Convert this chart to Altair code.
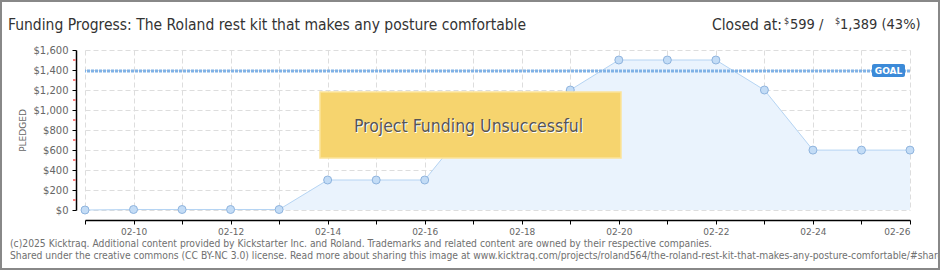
import altair as alt
import pandas as pd

# ---------------- data ----------------
dates = ["2025-02-09", "2025-02-10", "2025-02-11", "2025-02-12", "2025-02-13",
         "2025-02-14", "2025-02-15", "2025-02-16", "2025-02-17", "2025-02-18",
         "2025-02-19", "2025-02-20", "2025-02-21", "2025-02-22", "2025-02-23",
         "2025-02-24", "2025-02-25", "2025-02-26"]
pledged = [0, 5, 5, 5, 5, 300, 300, 300, 900, 900, 1200, 1500, 1500, 1500, 1200, 599, 599, 599]
goal = [1389]
y_major = [0, 200, 400, 600, 800, 1000, 1200, 1400, 1600]
y_minor = [100, 300, 500, 700, 900, 1100, 1300, 1500]
x_days = list(range(9, 27))

title_text = ["Funding Progress: The Roland rest kit that makes any posture comfortable"]
closed_parts = ["Closed at:", "$", "599 /", "$", "1,389 (43%)"]
banner_text = ["Project Funding Unsuccessful"]
goal_label = ["GOAL"]
footer_lines = [
    "(c)2025 Kicktraq. Additional content provided by Kickstarter Inc. and Roland. Trademarks and related content are owned by their respective companies.",
    "Shared under the creative commons (CC BY-NC 3.0) license. Read more about sharing this image at www.kicktraq.com/projects/roland564/the-roland-rest-kit-that-makes-any-posture-comfortable/#share",
]

df = pd.DataFrame({"date": dates, "pledged": pledged})
goal_df = pd.DataFrame({"goal": goal, "label": goal_label})
minor_df = pd.DataFrame({"v": y_minor})

FONT = "DejaVu Sans"
NARROW = "Liberation Sans Narrow, DejaVu Sans Condensed, DejaVu Sans"

x_scale = alt.Scale(type="utc", nice=False,
                    domain=[alt.DateTime(year=2025, month=2, date=9, utc=True),
                            alt.DateTime(year=2025, month=2, date=26, utc=True)])
y_scale = alt.Scale(domain=[0, 1600], nice=False)

x_axis = alt.Axis(
    values=[alt.DateTime(year=2025, month=2, date=d, utc=True) for d in x_days],
    labelExpr="utcdate(datum.value) % 2 == 0 ? utcFormat(datum.value, '%m-%d') : ''",
    title=None, offset=10, grid=True, gridColor="#dddddd", gridDash=[5, 3],
    domainColor="#000000", domainWidth=1.5, tickColor="#000000", tickSize=4,
    labelFont=FONT, labelFontSize=9, labelColor="#666666", labelPadding=3,
)
y_axis = alt.Axis(
    values=y_major, format="$,d", title="PLEDGED", offset=9, grid=True,
    gridColor="#dddddd", gridDash=[5, 3], domainColor="#000000", domainWidth=1.5,
    tickColor="#000000", tickSize=4, labelFont=FONT, labelFontSize=10,
    labelColor="#666666", labelPadding=4, titleFont=FONT, titleFontSize=9,
    titleColor="#666666", titleFontWeight="normal", titlePadding=6,
)

X = alt.X("date:T", scale=x_scale, axis=x_axis, title=None)


def Y(field):
    return alt.Y(field, scale=y_scale, axis=y_axis, title="PLEDGED")


base = alt.Chart(df)
area = base.mark_area(color="#eaf3fd", opacity=1).encode(x=X, y=Y("pledged:Q"))
line = base.mark_line(color="#b5d4f3", strokeWidth=1).encode(x=X, y=Y("pledged:Q"))
points = base.mark_point(filled=True, shape="circle", size=64, fill="#c3dcf6",
                         stroke="#8fb4de", strokeWidth=1, opacity=1).encode(x=X, y=Y("pledged:Q"))

goal_rule = alt.Chart(goal_df).mark_rule(color="#80b2e6", strokeWidth=3, strokeDash=[3, 1]).encode(
    y=Y("goal:Q"),
)
goal_box = alt.Chart(goal_df).mark_rect(color="#3c8ad8", cornerRadius=2,
                                        yOffset=-7, y2Offset=6).encode(
    x=alt.value(787), x2=alt.value(820),
    y=Y("goal:Q"),
    y2=alt.Y2("goal:Q"),
)
goal_text = alt.Chart(goal_df).mark_text(font=FONT, fontSize=9, fontWeight="bold",
                                         color="white", align="center", baseline="middle").encode(
    x=alt.value(803.5), y=Y("goal:Q"), text="label:N",
)

minor_ticks = alt.Chart(minor_df).mark_rule(color="#ff0000", strokeWidth=1).encode(
    x=alt.value(-12), x2=alt.value(-9.5),
    y=Y("v:Q"),
)

banner = alt.Chart(pd.DataFrame({"t": banner_text})).mark_rect(
    fill="#f6d46e", stroke="#fbe39a", strokeWidth=1.5, opacity=1).encode(
    x=alt.value(235), x2=alt.value(536), y=alt.value(42), y2=alt.value(108),
)
banner_shadow = alt.Chart(pd.DataFrame({"t": banner_text})).mark_text(
    font=NARROW, fontSize=17.5, color="#ffffff", align="center", baseline="middle").encode(
    x=alt.value(384.5), y=alt.value(78), text="t:N")
banner_label = alt.Chart(pd.DataFrame({"t": banner_text})).mark_text(
    font=NARROW, fontSize=17.5, color="#555555", align="center", baseline="middle").encode(
    x=alt.value(383.5), y=alt.value(77), text="t:N")

title = alt.Chart(pd.DataFrame({"t": title_text})).mark_text(
    font=NARROW, fontSize=15.5, color="#333333", align="left", baseline="middle").encode(
    x=alt.value(-77), y=alt.value(-25), text="t:N")

closed_x = [627, 699, 705, 750, 755]
closed_size = [15.5, 9, 14.5, 9, 14.5]
closed_y = [-25, -29, -25, -29, -25]
closed_layers = []
for txt, xx, ss, yy in zip(closed_parts, closed_x, closed_size, closed_y):
    closed_layers.append(
        alt.Chart(pd.DataFrame({"t": [txt]})).mark_text(
            font=NARROW, fontSize=ss, color="#333333", align="left", baseline="middle").encode(
            x=alt.value(xx), y=alt.value(yy), text="t:N"))

footer1 = alt.Chart(pd.DataFrame({"t": [footer_lines[0]]})).mark_text(
    font=NARROW, fontSize=10.25, color="#707070", align="left", baseline="middle").encode(
    x=alt.value(-75), y=alt.value(194), text="t:N")
footer2 = alt.Chart(pd.DataFrame({"t": [footer_lines[1]]})).mark_text(
    font=NARROW, fontSize=10.25, color="#707070", align="left", baseline="middle").encode(
    x=alt.value(-75), y=alt.value(206), text="t:N")

border = alt.Chart(pd.DataFrame({"t": [0]})).mark_rect(
    filled=False, stroke="#888888", strokeWidth=2).encode(
    x=alt.value(-84), x2=alt.value(854), y=alt.value(-49), y2=alt.value(219))

chart = alt.layer(
    area, line, goal_rule, points, banner, banner_shadow, banner_label,
    goal_box, goal_text, minor_ticks, title, *closed_layers, footer1, footer2, border,
).properties(
    width=825, height=160, autosize="none",
    padding={"left": 85, "top": 50, "right": 30, "bottom": 60},
    background="white",
).configure_view(stroke=None)

chart.save("out.html", embed_options={"renderer": "svg", "actions": False})
